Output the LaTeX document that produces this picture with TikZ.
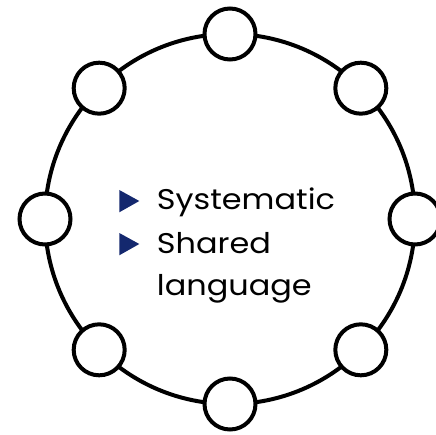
\documentclass[tikz,border=0pt]{standalone}
\usepackage{fontspec}
\setmainfont{Poppins}[FakeStretch=1.12]
\usetikzlibrary{calc}
\definecolor{bulletnavy}{HTML}{14286E}
\begin{document}
\begin{tikzpicture}[x=1pt,y=-1pt,
  ring/.style={line width=4pt, draw=black},
  member/.style={circle, draw=black, line width=4pt, fill=white, minimum size=51pt, inner sep=0pt},
  itemtext/.style={anchor=base west, inner sep=0pt, font=\fontsize{28.5}{43}\selectfont},
  bullet/.style={fill=bulletnavy, draw=none}]
  \useasboundingbox (0,0) rectangle (435,435);
  \coordinate (c) at (230,219);
  % the outer ring
  \draw[ring] (c) circle[radius=185];
  % eight members spaced evenly on the ring
  \foreach \a [count=\i] in {90,45,0,-45,-90,-135,180,135}{
    \node[member] (m\i) at ($(c)+({185*cos(\a)},{-185*sin(\a)})$) {};
  }
  % bullet list in the centre
  \node[itemtext] (t1) at (156.7,210) {Systematic};
  \node[itemtext] (t2) at (156.7,253) {Shared};
  \node[itemtext] (t3) at (156.7,295) {language};
  \fill[bullet] (119.3,190) -- (139.3,201) -- (119.3,212.3) -- cycle;
  \fill[bullet] (119.3,233) -- (139.3,244) -- (119.3,255.3) -- cycle;
\end{tikzpicture}
\end{document}
